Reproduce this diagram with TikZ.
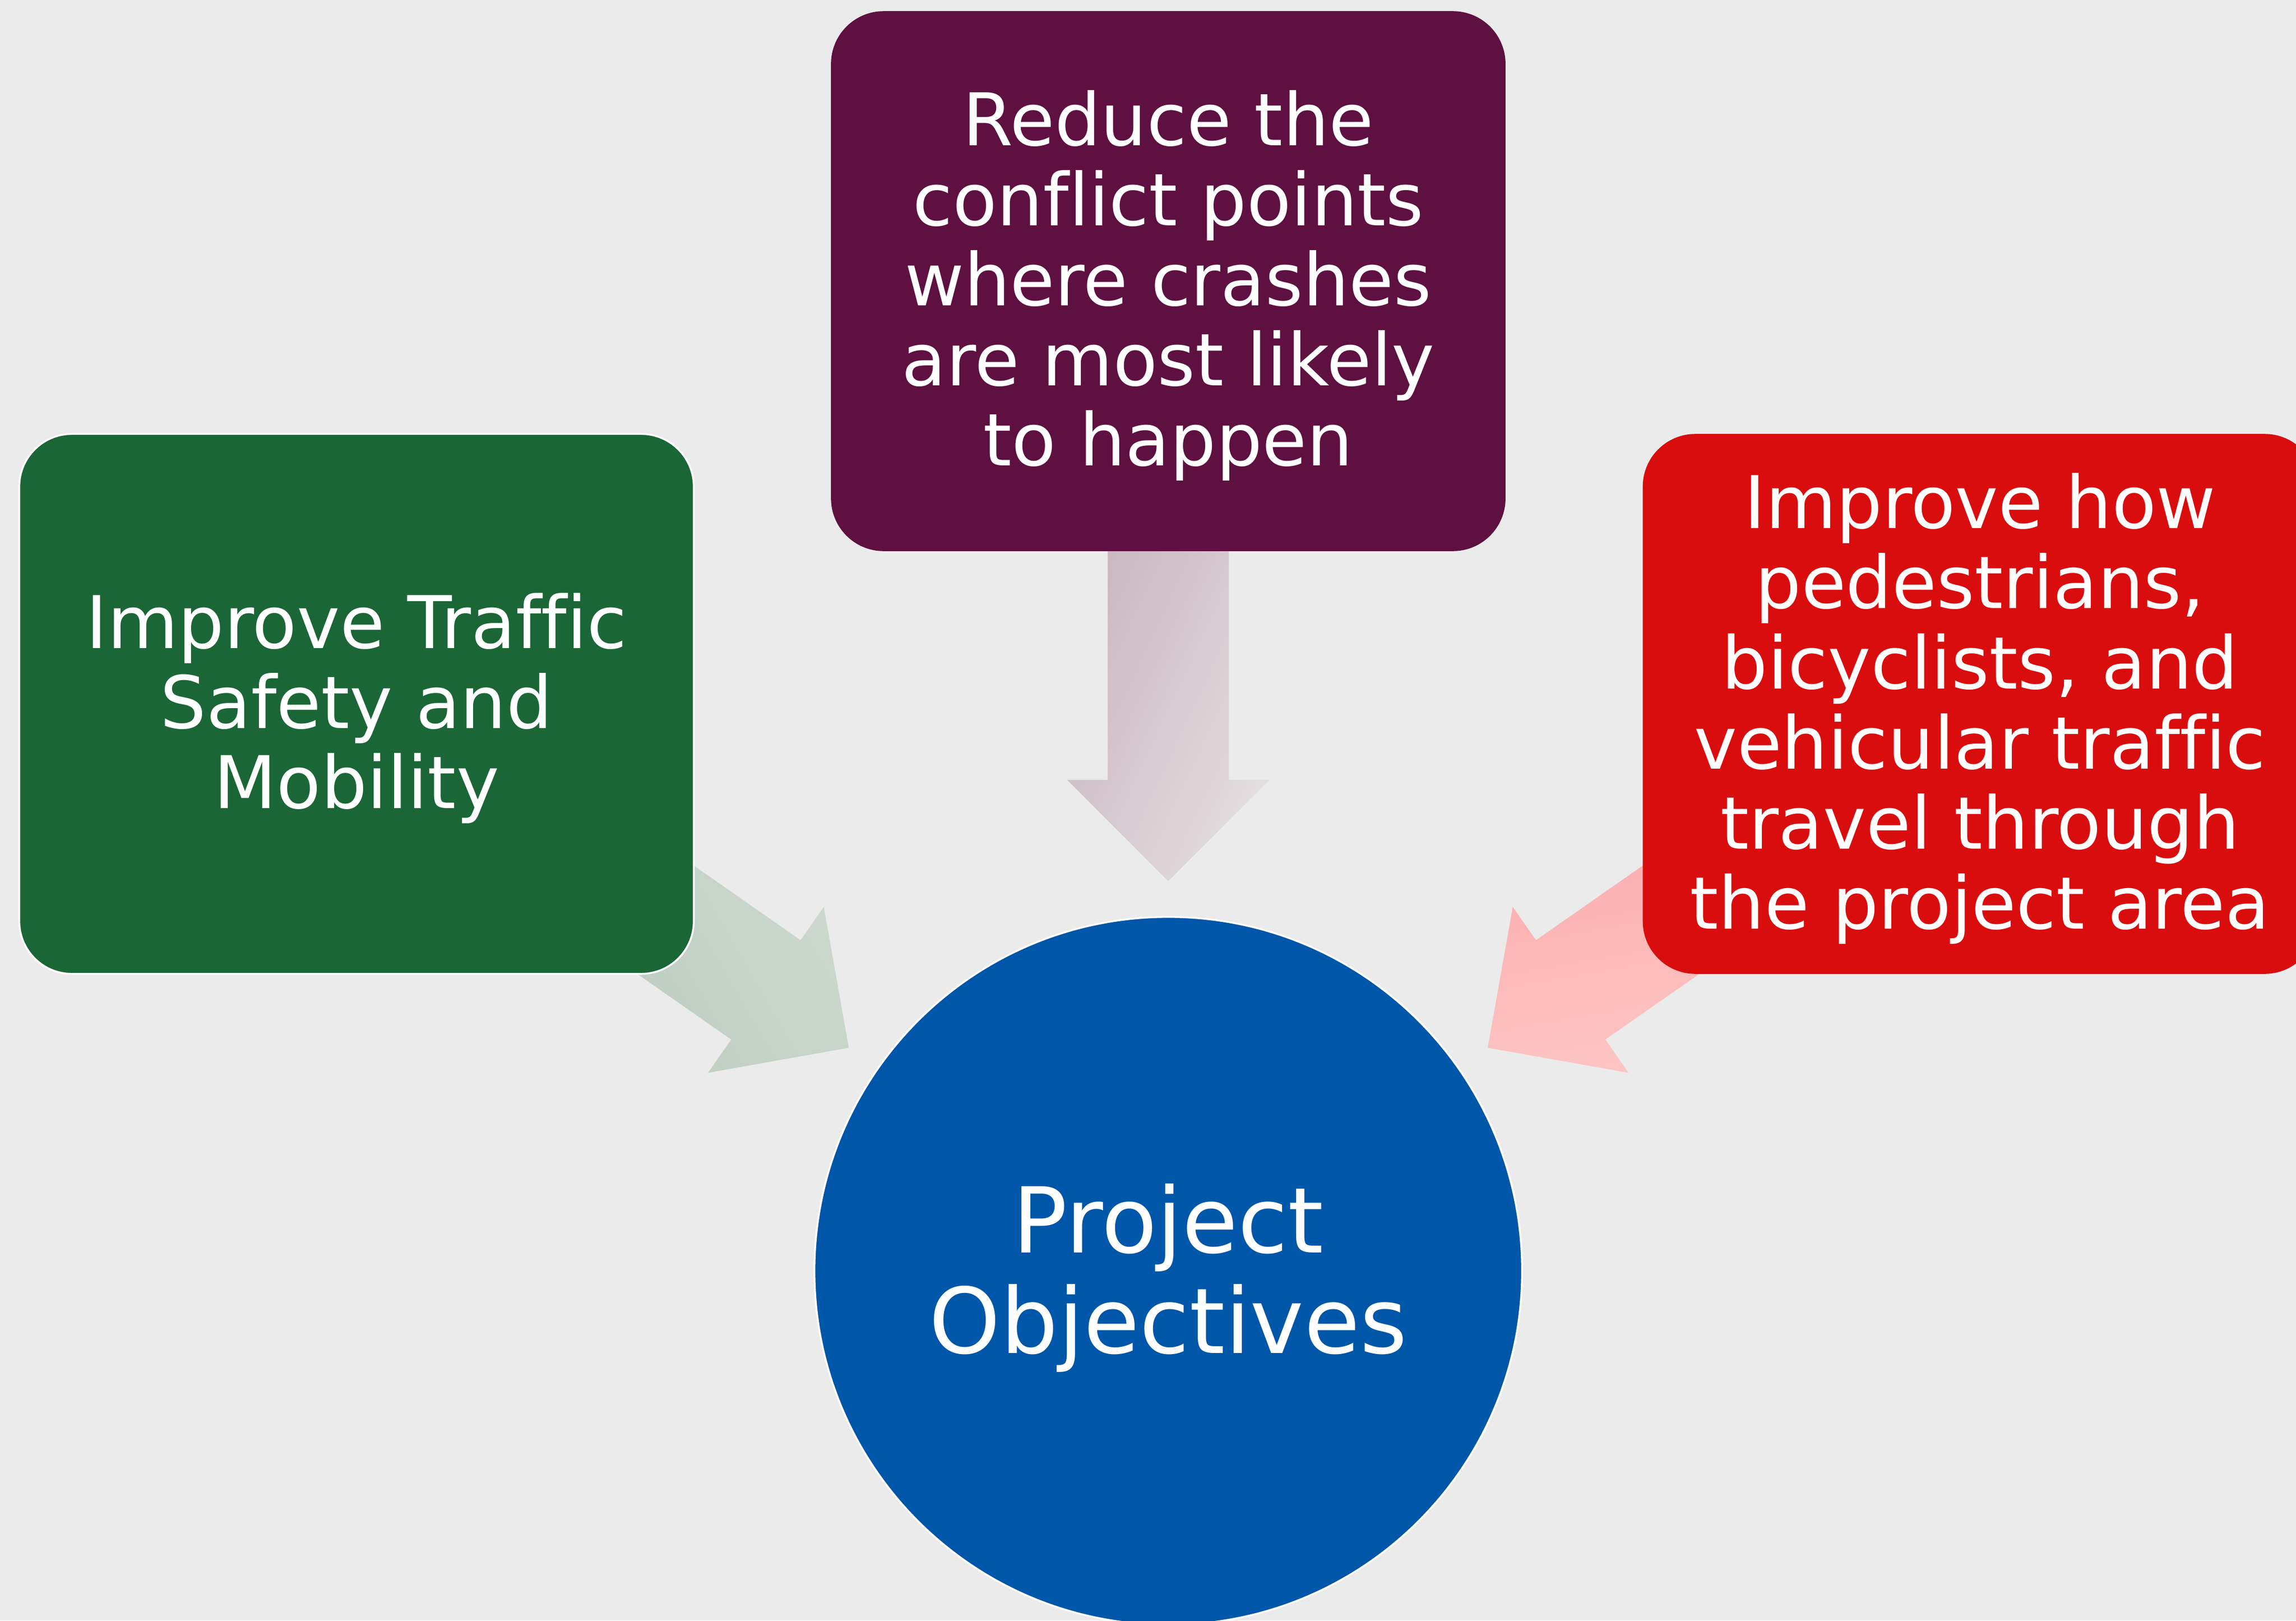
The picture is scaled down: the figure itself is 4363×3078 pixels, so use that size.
\documentclass[tikz,border=0pt]{standalone}
\usepackage{fontspec}
\setmainfont{DejaVu Sans}[Ligatures=NoCommon]
\usetikzlibrary{calc,backgrounds}
\definecolor{bg}{RGB}{235,235,235}
\definecolor{boxgreen}{RGB}{27,102,54}
\definecolor{boxpurple}{RGB}{94,16,64}
\definecolor{boxred}{RGB}{217,13,14}
\definecolor{circblue}{RGB}{0,86,168}
\definecolor{pdark}{RGB}{197,182,190}
\definecolor{plight}{RGB}{228,220,223}
\definecolor{gdark}{RGB}{184,202,188}
\definecolor{glight}{RGB}{206,217,208}
\definecolor{rdark}{RGB}{252,168,168}
\definecolor{rlight}{RGB}{253,198,198}
\newcommand\objarrow[5]{%
  \coordinate (a0) at ($(#2)!15cm!(#1)$);
  \coordinate (hb) at ($(#2)!9.32cm!(#1)$);
  \coordinate (tp) at ($(#2)!7.4cm!(#1)$);
  \shade[top color=#3, bottom color=#4, shading angle=#5]
    ($(a0)!1.15cm!90:(#2)$) -- ($(hb)!1.15cm!90:(#2)$) -- ($(hb)!1.92cm!90:(#2)$)
    -- (tp) -- ($(hb)!1.92cm!-90:(#2)$) -- ($(hb)!1.15cm!-90:(#2)$)
    -- ($(a0)!1.15cm!-90:(#2)$) -- cycle;
}
\begin{document}
\begin{tikzpicture}[x=0.01cm,y=-0.01cm,
  objbox/.style={rectangle, rounded corners=1cm, minimum width=12.81cm,
    minimum height=10.25cm, inner sep=0pt},
  boxtext/.style={text=white, align=center, inner sep=0pt,
    font=\fontsize{39.26pt}{43.25pt}\selectfont},
  circtext/.style={text=white, align=center, inner sep=0pt,
    font=\fontsize{49.08pt}{54.34pt}\selectfont}]
\useasboundingbox (0,0) rectangle (4363,3078);

% boxes and circle
\node[objbox, fill=boxgreen, draw=white, line width=0.035cm] (g) at (677.5,1337) {};
\node[objbox, fill=boxpurple] (p) at (2220,534) {};
\node[objbox, fill=boxred] (r) at (3762.5,1337) {};
\node[circle, minimum size=13.44cm, inner sep=0pt, fill=circblue, draw=white,
  line width=0.035cm] (o) at (2220,2414) {};

% texts
\node[boxtext] (gt) at (677.5,1345) {Improve Traffic\\Safety and\\Mobility};
\node[boxtext] (pt) at (2220,542.5) {Reduce the\\conflict points\\where crashes\\are most likely\\to happen};
\node[boxtext] (rt) at (3762.5,1346) {Improve how\\pedestrians,\\bicyclists, and\\vehicular traffic\\travel through\\the project area};
\node[circtext] (ot) at (2220,2427) {Project\\Objectives};

\begin{pgfonlayer}{background}
  \fill[bg] (0,0) rectangle (4363,3078);
  \objarrow{p.center}{o.center}{pdark}{plight}{65}
  \objarrow{g.center}{o.center}{gdark}{glight}{120}
  \objarrow{r.center}{o.center}{rdark}{rlight}{10}
\end{pgfonlayer}
\end{tikzpicture}
\end{document}
